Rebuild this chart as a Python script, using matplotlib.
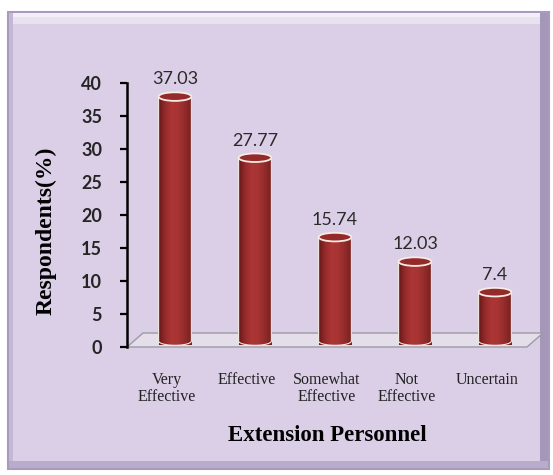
import numpy as np
import matplotlib
matplotlib.use("Agg")
import matplotlib.pyplot as plt
from matplotlib.patches import Rectangle, Ellipse, Polygon, PathPatch
from matplotlib.path import Path
from matplotlib.colors import LinearSegmentedColormap
from matplotlib.transforms import ScaledTranslation

categories = ["Very\nEffective", "Effective", "Somewhat\nEffective", "Not\nEffective", "Uncertain"]
values = [37.03, 27.77, 15.74, 12.03, 7.4]
value_labels = ["37.03", "27.77", "15.74", "12.03", "7.4"]
yticks = [0, 5, 10, 15, 20, 25, 30, 35, 40]

W, H = 553, 475
fig = plt.figure(figsize=(W / 100, H / 100), dpi=100)
fig.patch.set_facecolor("white")

def px_rect(x0, y0, x1, y1, **kw):
    # pixel box (top-left origin) -> figure fraction rectangle, behind the axes
    r = Rectangle((x0 / W, 1 - y1 / H), (x1 - x0) / W, (y1 - y0) / H,
                  transform=fig.transFigure, zorder=-10, **kw)
    fig.patches.append(r)

# lavender panel with a simple bevel
px_rect(8, 12, 549, 469, facecolor="#DBCFE7", edgecolor="#A99BBF", lw=1.5)
px_rect(9, 13, 548, 17, facecolor="#F3EEF8", edgecolor="none")
px_rect(9, 17, 548, 24, facecolor="#E8E1F0", edgecolor="none")
px_rect(9, 13, 13, 468, facecolor="#C4B8D6", edgecolor="none")
px_rect(540, 13, 548, 468, facecolor="#A597B8", edgecolor="none")
px_rect(9, 461, 548, 468, facecolor="#B8ACCB", edgecolor="none")

ax = fig.add_axes([127 / W, 128 / H, 400 / W, 264 / H])
ax.set_facecolor("none")

# floor of the 3D plot
dx, dy = 16 / 400, 14 / 264
floor = Polygon([(0, 0), (1, 0), (1 + dx, dy), (dx, dy)], closed=True,
                transform=ax.transAxes, facecolor="#E4DEEA", edgecolor="#9C9AA2",
                lw=1.0, clip_on=False, zorder=1)
ax.add_patch(floor)

# bars sit half way into the floor depth
trans = ax.transData + ScaledTranslation(8 / 100, 6 / 100, fig.dpi_scale_trans)

cmap = LinearSegmentedColormap.from_list(
    "cyl", ["#6A1919", "#992C2C", "#AD3636", "#A63333", "#922B2B", "#761F1F"])
grad = np.linspace(0, 1, 64).reshape(1, -1)

bw = 0.41
eh = 1.3
for i, v in enumerate(values):
    t = np.linspace(np.pi, 2 * np.pi, 40)
    verts = [(i - bw / 2, v)]
    verts += [(i + bw / 2 * np.cos(a), eh / 2 * np.sin(a)) for a in t]
    verts += [(i + bw / 2, v), (i - bw / 2, v)]
    codes = [Path.MOVETO] + [Path.LINETO] * (len(verts) - 2) + [Path.CLOSEPOLY]
    body = PathPatch(Path(verts, codes), facecolor="none", edgecolor="#F2E6DF",
                     lw=0.8, transform=trans, clip_on=False, zorder=3)
    ax.add_patch(body)
    im = ax.imshow(grad, cmap=cmap, aspect="auto",
                   extent=[i - bw / 2, i + bw / 2, -eh / 2, v],
                   transform=trans, zorder=2, clip_on=False)
    im.set_clip_path(body)
    top = Ellipse((i, v), bw, eh, facecolor="#952A2A", edgecolor="#F5ECE4",
                  lw=1.3, transform=trans, zorder=4, clip_on=False)
    ax.add_patch(top)
    ax.text(i, v + eh / 2 + 1.2, value_labels[i], transform=trans, ha="center",
            va="baseline", fontsize=13, family="Lato", color="#2A2A2A", zorder=5)

ax.set_xlim(-0.5, 4.5)
ax.set_ylim(0, 40)

for s in ["top", "right", "bottom"]:
    ax.spines[s].set_visible(False)
ax.spines["left"].set_linewidth(1.8)
ax.spines["left"].set_color("black")

ax.set_yticks(yticks)
ax.set_yticklabels([str(t) for t in yticks], family="Lato", fontsize=13,
                   fontweight="bold", color="#252525")
ax.tick_params(axis="y", direction="out", length=5, width=1.6, pad=13)

ax.set_xticks(range(len(categories)))
ax.set_xticklabels(categories, family="Liberation Serif", fontsize=11.5,
                   color="#222222", linespacing=1.05)
ax.tick_params(axis="x", length=0, pad=18)

ax.set_xlabel("Extension Personnel", family="Liberation Serif", fontsize=16.5,
              fontweight="bold", labelpad=15)
ax.set_ylabel("Respondents(%)", family="Liberation Serif", fontsize=17,
              fontweight="bold")
ax.yaxis.set_label_coords(-0.175, 0.44)

fig.savefig("out.png", dpi=100)
